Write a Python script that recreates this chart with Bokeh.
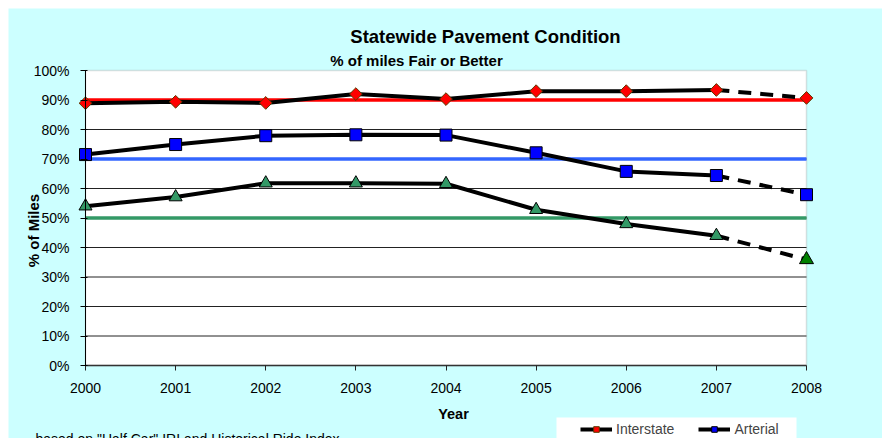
import math
from bokeh.plotting import figure
from bokeh.models import (Range1d, FixedTicker, BoxAnnotation, Label, Legend, LegendItem)
from bokeh.embed import file_html
from bokeh.resources import INLINE

# ---------------- data ----------------
years = [2000, 2001, 2002, 2003, 2004, 2005, 2006, 2007, 2008]
year_labels = [str(y) for y in years]
interstate = [88.9, 89.4, 89.0, 92.0, 90.3, 93.0, 93.0, 93.4, 90.7]
arterial = [71.5, 74.9, 77.9, 78.2, 78.1, 72.1, 65.8, 64.4, 57.9]
collector = [54.0, 57.1, 61.8, 61.8, 61.6, 52.8, 48.0, 44.0, 35.9]
targets = [90, 70, 50]  # Interstate, Arterial, Collector goals
y_ticks = [0, 10, 20, 30, 40, 50, 60, 70, 80, 90, 100]
y_tick_labels = ["0%", "10%", "20%", "30%", "40%", "50%", "60%", "70%", "80%", "90%", "100%"]
grid_vals = [10, 20, 30, 40, 50, 60, 70, 80, 90]

FONT = "Liberation Sans"
CYAN = "#CCFFFF"

# frame covers the whole canvas (page x 8..882, y 8..438)
PXY = 721 / 8.0     # px per year
PPC = 295 / 100.0   # px per percent
p = figure(width=874, height=430, output_backend="svg", toolbar_location=None,
           x_range=Range1d(2000 - 77 / PXY, 2008 + 76 / PXY),
           y_range=Range1d(0 - 73 / PPC, 100 + 62 / PPC),
           min_border_left=0, min_border_right=0, min_border_top=0, min_border_bottom=0)
p.margin = (8, 0, 0, 8)
p.background_fill_color = CYAN
p.border_fill_color = CYAN
p.outline_line_color = None
p.xgrid.visible = False
p.ygrid.visible = False

# plot area (white) with grey border
p.add_layout(BoxAnnotation(left=2000, right=2008, bottom=0, top=100,
                           fill_color="white", fill_alpha=1.0,
                           line_color="#999999", line_width=1.5, level="underlay"))

# horizontal gridlines
p.segment(x0=[years[0]] * len(grid_vals), x1=[years[-1]] * len(grid_vals),
          y0=grid_vals, y1=grid_vals, line_color="#222222", line_width=1)

# target lines
target_colors = ["#FF0000", "#3366FF", "#339966"]
for t, c in zip(targets, target_colors):
    p.segment(x0=[years[0]], x1=[years[-1]], y0=[t], y1=[t], line_color=c, line_width=3.5)

# series lines
series = [interstate, arterial, collector]
line_r = []
for s in series:
    r = p.line(years[:8], s[:8], line_color="black", line_width=4)
    p.line(years[7:], s[7:], line_color="black", line_width=4, line_dash="13 9")
    line_r.append(r)

# markers
p.scatter(years, interstate, marker="square", angle=math.pi / 4, size=9,
          fill_color="#FF0000", line_color="#5a3a00", line_width=1)
p.scatter(years, arterial, marker="square", size=12,
          fill_color="#0000FF", line_color="black", line_width=1)
p.scatter(years[:8], collector[:8], marker="triangle", size=13,
          fill_color="#339966", line_color="black", line_width=1)
p.scatter(years[8:], collector[8:], marker="triangle", size=14,
          fill_color="#008000", line_color="black", line_width=1)

# legend-only small markers
lg_int = p.scatter([years[0]], [interstate[0]], marker="square", angle=math.pi / 4, size=6,
                   fill_color="#FF0000", line_color="#5a3a00", visible=False)
lg_art = p.scatter([years[0]], [arterial[0]], marker="square", size=7,
                   fill_color="#0000FF", line_color="black", visible=False)

# axes
xa = p.xaxis[0]
xa.fixed_location = 0
xa.ticker = FixedTicker(ticks=years)
xa.major_label_overrides = {y: l for y, l in zip(years, year_labels)}
xa.bounds = (years[0], years[-1])
xa.axis_line_color = "#333333"
xa.axis_line_width = 1.5
xa.major_tick_line_color = "#222222"
xa.major_tick_out = 5
xa.major_tick_in = 0
xa.minor_tick_line_color = None
xa.major_label_text_font = FONT
xa.major_label_text_font_size = "14px"
xa.major_label_text_color = "black"
xa.major_label_standoff = 12

ya = p.yaxis[0]
ya.fixed_location = 2000
ya.ticker = FixedTicker(ticks=y_ticks)
ya.major_label_overrides = {v: l for v, l in zip(y_ticks, y_tick_labels)}
ya.bounds = (0, 100)
ya.axis_line_color = "black"
ya.axis_line_width = 1
ya.major_tick_line_color = "black"
ya.major_tick_out = 5
ya.major_tick_in = 2
ya.minor_tick_line_color = None
ya.major_label_text_font = FONT
ya.major_label_text_font_size = "14px"
ya.major_label_text_color = "black"
ya.major_label_standoff = 11

# texts (screen units relative to frame: frame left = page 8, frame bottom = page 438)
def lab(text, px, py, size, bold=False, align="center", baseline="alphabetic", angle=0):
    p.add_layout(Label(x=px - 8, y=438 - py, x_units="screen", y_units="screen",
                       text=text, text_font=FONT, text_font_size=size,
                       text_font_style="bold" if bold else "normal",
                       text_align=align, text_baseline=baseline, angle=angle,
                       text_color="black"))

lab("Statewide Pavement Condition", 485, 36, "18.5px", bold=True)
lab("% of miles Fair or Better", 416, 59.5, "15px", bold=True)
lab("% of Miles", 33, 230, "15px", bold=True, baseline="middle", angle=math.pi / 2)
lab("Year", 453, 413, "14.5px", bold=True)
lab('based on "Half Car" IRI and Historical Ride Index', 35, 430, "14px", align="left", baseline="top")

# legend box background
p.add_layout(BoxAnnotation(left=556 - 8, right=796 - 8, top=438 - 417, bottom=-5,
                           left_units="screen", right_units="screen",
                           top_units="screen", bottom_units="screen",
                           fill_color="white", fill_alpha=1.0, line_color=None))

legend = Legend(items=[LegendItem(label="Interstate", renderers=[line_r[0], lg_int]),
                       LegendItem(label="Arterial", renderers=[line_r[1], lg_art])],
                orientation="horizontal", location=(580 - 8, 438 - 411.5 - 33 + 8),
                padding=8, spacing=24, glyph_width=32, glyph_height=14, label_height=14,
                label_standoff=4, label_text_font=FONT, label_text_font_size="14px",
                background_fill_alpha=0.0, border_line_color=None)
p.add_layout(legend, "center")

open("out.html", "w").write(file_html(p, INLINE))
